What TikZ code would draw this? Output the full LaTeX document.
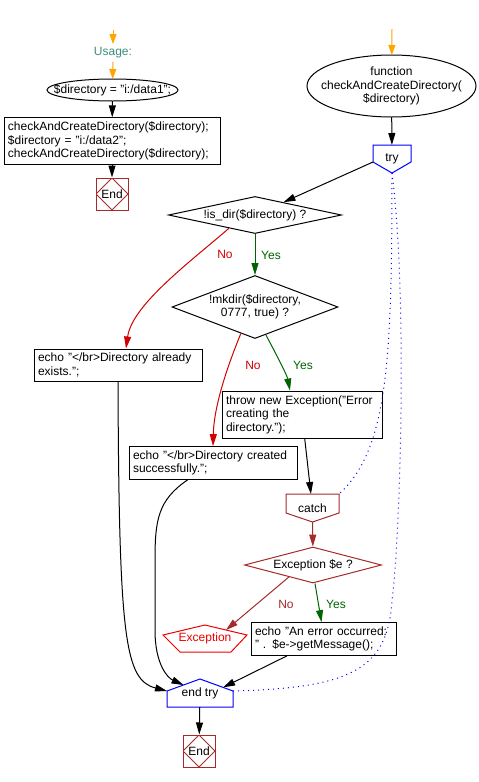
\documentclass[tikz,border=0pt]{standalone}
\usepackage{fontspec}
\setmainfont{Liberation Sans}
\usetikzlibrary{shapes.geometric,arrows.meta,calc}
\definecolor{startorange}{RGB}{255,165,0}
\definecolor{usageteal}{RGB}{60,140,120}
\definecolor{endbrown}{RGB}{165,42,42}
\definecolor{nored}{RGB}{210,0,0}
\definecolor{excred}{RGB}{235,0,0}
\definecolor{yesgreen}{RGB}{0,100,0}
\definecolor{tryblue}{RGB}{0,0,255}

\begin{document}
\begin{tikzpicture}[x=1pt, y=-1pt, font=\fontsize{12}{13.5}\selectfont]
\tikzstyle{box_style} = [rectangle, draw=black, line width=1pt, inner sep=4pt, align=left, minimum height=32pt]
\tikzstyle{block_style} = [rectangle, inner sep=0pt, outer sep=0pt, align=center]
\tikzstyle{cond_style} = [diamond, draw=black, line width=1pt, inner sep=0pt, aspect=4, align=center]
\tikzstyle{end_style} = [rectangle, draw=endbrown, line width=1pt, minimum size=32pt, inner sep=0pt,
    path picture={\draw[endbrown, line width=0.8pt] (path picture bounding box.north) -- (path picture bounding box.east)
    -- (path picture bounding box.south) -- (path picture bounding box.west) -- cycle;}]
\tikzstyle{edge_style} = [-{Triangle[length=12pt, width=7pt]}, black, line width=1pt]
\tikzstyle{start_style} = [-{Triangle[length=10pt, width=7pt]}, startorange, line width=1pt]
\tikzstyle{dot_style} = [tryblue, line width=1pt, dash pattern=on 1pt off 4pt]
\tikzstyle{yes_style} = [text=yesgreen]
\tikzstyle{no_style} = [text=nored]
    \useasboundingbox (0,0) rectangle (479,782);

    \coordinate (start1) at (113,30);
    \node[text=usageteal] (usage) at (113,53) {Usage:};
    \node[block_style, minimum width=131pt, minimum height=22pt] (init) at (112.5,90) {\$directory = "i:/data1";};
    \draw[line width=1pt] (init.center) ellipse [x radius=65.5, y radius=11];
    \node[box_style, text width=208pt, minimum height=46pt] (calls) at (112,141)
        {checkAndCreateDirectory(\$directory);\\\$directory = "i:/data2";\\checkAndCreateDirectory(\$directory);};
    \node[end_style] (end1) at (112,194) {End};

    \draw[start_style] (start1) -- (usage);
    \draw[start_style] (usage) -- (init);
    \draw[edge_style] (init) -- (calls);
    \draw[edge_style] (calls) -- (end1);

    \coordinate (start2) at (392,29);
    \node[block_style, minimum width=169pt, minimum height=62pt] (func) at (391.5,86)
        {function\\checkAndCreateDirectory(\\\$directory)};
    \draw[line width=1pt] (func.center) ellipse [x radius=84.5, y radius=31];
    \node[block_style, minimum width=38pt, minimum height=28pt] (try) at (392,159) {try};
    \draw[tryblue, line width=1pt] (try.north west) -- (try.north east) -- ([yshift=11pt]try.south east)
        -- (try.south) -- ([yshift=11pt]try.south west) -- cycle;

    \node[cond_style, minimum width=173pt, minimum height=36pt] (isdir) at (255,215) {!is\_dir(\$directory) ?};
    \node[cond_style, aspect=2.6, minimum width=166pt, minimum height=63pt] (mkdir) at (255,307)
        {!mkdir(\$directory,\\0777, true) ?};
    \node[box_style, text width=160pt] (exists) at (118,365) {echo "</br>Directory already\\exists.";};
    \node[box_style, text width=152pt, minimum height=47pt] (thrw) at (302,414.5)
        {throw new Exception("Error\\creating the\\directory.");};
    \node[box_style, text width=160pt] (created) at (213,463) {echo "</br>Directory created\\successfully.";};

    \node[block_style, minimum width=53pt, minimum height=28pt] (catch) at (312.5,508) {catch};
    \draw[endbrown, line width=1pt] (catch.north west) -- (catch.north east) -- ([yshift=9pt]catch.south east)
        -- (catch.south) -- ([yshift=9pt]catch.south west) -- cycle;
    \node[cond_style, draw=endbrown, minimum width=137pt, minimum height=36pt] (exc) at (313,565) {Exception \$e ?};
    \node[block_style, text=excred, minimum width=84pt, minimum height=27pt] (exnode) at (205,638.5) {Exception};
    \draw[excred, line width=1pt] (exnode.north) -- ([yshift=-10pt]exnode.north east) -- ([xshift=-16pt]exnode.south east)
        -- ([xshift=17pt]exnode.south west) -- ([yshift=-10pt]exnode.north west) -- cycle;
    \node[box_style, text width=137pt] (errmsg) at (323.5,639) {echo "An error occurred:\\" . \$e->getMessage();};

    \node[block_style, minimum width=66pt, minimum height=28pt] (endtry) at (200,693) {end try};
    \draw[tryblue, line width=1pt] (endtry.north) -- ([yshift=-12pt]endtry.north east) -- (endtry.south east)
        -- (endtry.south west) -- ([yshift=-12pt]endtry.north west) -- cycle;
    \node[end_style] (end2) at (199,751) {End};

    \draw[start_style] (start2) -- (func);
    \draw[edge_style] (func) -- (try);
    \draw[edge_style] ([yshift=11pt]try.south west) -- (isdir);
    \draw[edge_style, yesgreen] (isdir) -- (mkdir);
    \draw[edge_style, nored] ($(isdir.west)!0.7!(isdir.south)$) .. controls (190,262) and (132,305) .. ([xshift=8pt]exists.north);
    \draw[edge_style, yesgreen] ($(mkdir.south)!0.13!(mkdir.east)$) .. controls (275,352) and (287,375) .. ([xshift=-12pt]thrw.north);
    \draw[edge_style, nored] ($(mkdir.west)!0.83!(mkdir.south)$) .. controls (228,365) and (214,405) .. (created.north);
    \draw[edge_style] (thrw) -- (catch);
    \draw[edge_style, endbrown] (catch) -- (exc);
    \draw[edge_style, endbrown] ($(exc.west)!0.65!(exc.south)$) -- ($(exnode.north)!0.5!([yshift=-10pt]exnode.north east)$);
    \draw[edge_style, yesgreen] ([xshift=2pt]exc.south) -- ([xshift=-2pt]errmsg.north);
    \draw[edge_style] (exists.south) .. controls (119,640) and (125,680) .. ([yshift=-12pt]endtry.north west);
    \draw[edge_style] ($(created.south west)!0.35!(created.south east)$) .. controls (158,500) and (155,520) .. (155,560)
        -- (155,630) .. controls (155,665) and (168,678) .. ($(endtry.north)!0.5!([yshift=-12pt]endtry.north west)$);
    \draw[edge_style] ($(errmsg.south west)!0.25!(errmsg.south east)$) -- ($(endtry.north)!0.7!([yshift=-12pt]endtry.north east)$);
    \draw[edge_style] (endtry) -- (end2);
    \draw[dot_style] (try.south) .. controls (392,360) and (388,450) .. (catch.north east);
    \draw[dot_style] (try.south) .. controls (408,300) and (400,540) .. (392,600)
        .. controls (388,670) and (350,688) .. ([yshift=-12pt]endtry.north east);

    \node[no_style] (no1) at (225,254) {No};
    \node[yes_style] (yes1) at (271,255) {Yes};
    \node[no_style] (no2) at (253,365) {No};
    \node[yes_style] (yes2) at (303,365) {Yes};
    \node[text=endbrown] (no3) at (286,604) {No};
    \node[yes_style] (yes3) at (336,604) {Yes};
\end{tikzpicture}
\end{document}
